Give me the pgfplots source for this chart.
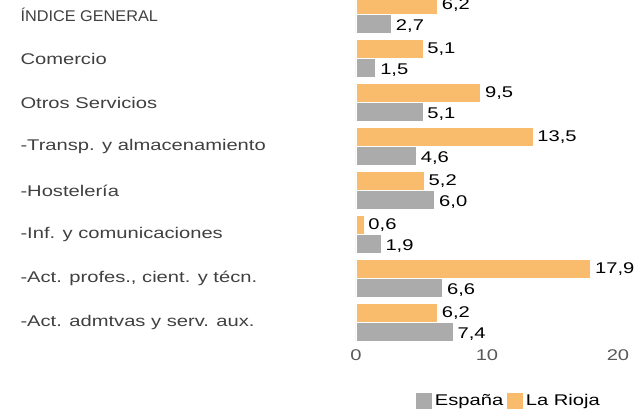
\documentclass[border=0pt]{standalone}
\usepackage{pgfplots}
\pgfplotsset{compat=1.18}
\usepackage{fontspec}
\setmainfont{Liberation Sans}[FakeStretch=1.3]
\newfontfamily\capsfont{Liberation Sans}[FakeStretch=1.05]
\definecolor{rioja}{HTML}{F8BC6C}
\definecolor{espana}{HTML}{ABABAB}
\definecolor{cattext}{HTML}{404040}
\definecolor{ticktext}{HTML}{595959}
\begin{document}
\begin{tikzpicture}[font=\fontsize{15.5bp}{18bp}\selectfont]
\begin{axis}[
  name=ax,
  scale only axis,
  width=262bp, height=344.5bp,
  xbar, bar width=19bp,
  xmin=0, xmax=20, ymin=-0.5, ymax=7.33,
  xtick={0,10,20},
  ytick={0,1,2,3,4,5,6,7},
  yticklabels={{-Act. admtvas y serv. aux.},{-Act. profes., cient. y técn.},{-Inf. y comunicaciones},{-Hostelería},{-Transp. y almacenamiento},{Otros Servicios},{Comercio},{\capsfont ÍNDICE GENERAL}},
  yticklabel style={anchor=west, xshift=-339bp, text=cattext},
  xticklabel style={text=ticktext, yshift=-2bp},
  /pgf/number format/assume math mode=true,
  axis line style={draw=none},
  major tick length=0pt,
  tick style={draw=none},
  nodes near coords={\pgfmathprintnumber[fixed,fixed zerofill,precision=1,use comma]{\pgfplotspointmeta}},
  nodes near coords style={anchor=west, xshift=1bp, text=black},
  legend columns=-1,
  legend style={at={(1,0)}, anchor=east, xshift=-13bp, yshift=-56bp, draw=none, fill=none,
    /tikz/every even column/.append style={column sep=1bp}},
  legend image code/.code={\fill[#1] (0bp,-8.5bp) rectangle (17bp,8.5bp);},
]
\addplot[fill=espana, draw=white, line width=0.6pt, bar shift=-9.5bp,
  nodes near coords style={yshift=-2bp}] coordinates {
  (2.7,7) (1.5,6) (5.1,5) (4.6,4) (6.0,3) (1.9,2) (6.6,1) (7.4,0)};
\addlegendentry{España}
\addplot[fill=rioja, draw=white, line width=0.6pt, bar shift=9.5bp] coordinates {
  (6.2,7) (5.1,6) (9.5,5) (13.5,4) (5.2,3) (0.6,2) (17.9,1) (6.2,0)};
\addlegendentry{La Rioja}
\end{axis}
\pgfresetboundingbox
\path[use as bounding box] ([xshift=-356bp]ax.north west) rectangle ([xshift=22bp,yshift=-67.5bp]ax.south east);
\end{tikzpicture}
\end{document}
